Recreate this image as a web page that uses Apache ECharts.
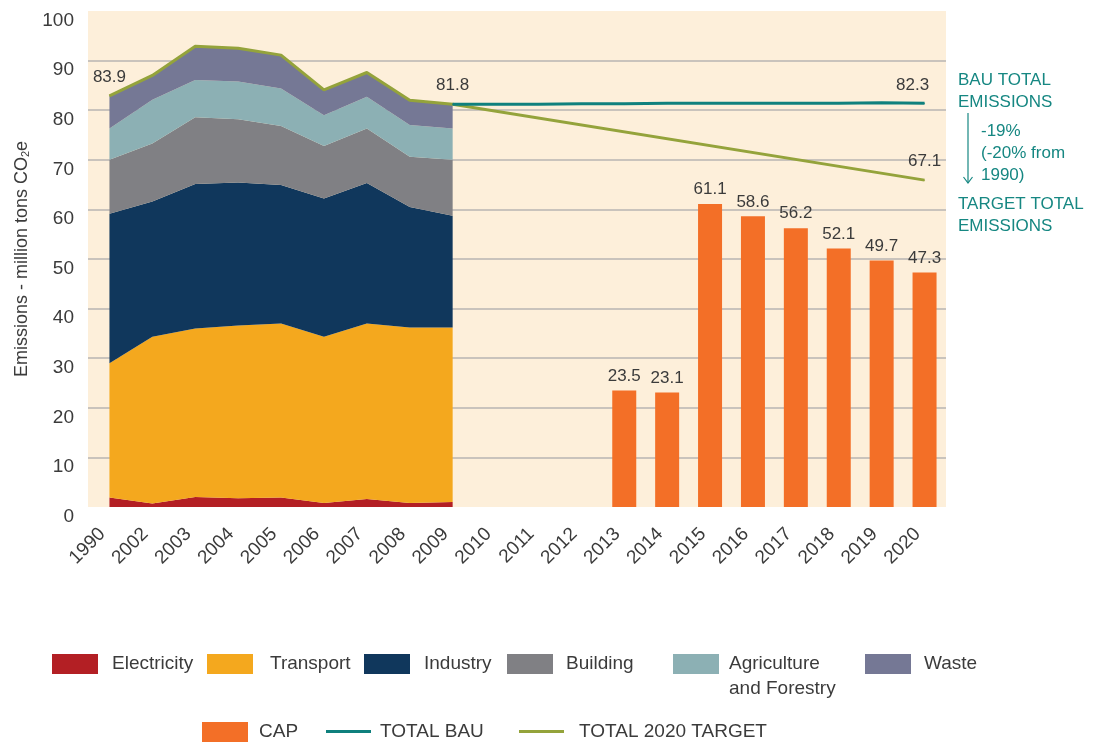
<!DOCTYPE html>
<html>
<head>
<meta charset="utf-8">
<title>Emissions</title>
<script src="https://cdn.jsdelivr.net/npm/echarts@6/dist/echarts.min.js"></script>
<style>
  html, body { margin: 0; padding: 0; background: #fff; }
  #main { width: 1095px; height: 742px; }
</style>
</head>
<body>
<div id="main"></div>
<script>
// categories
var years = ['1990', '2002', '2003', '2004', '2005', '2006', '2007', '2008', '2009', '2010',
             '2011', '2012', '2013', '2014', '2015', '2016', '2017', '2018', '2019', '2020'];

// sector emissions 1990-2009 (million tons CO2e)
var electricity = [1.9, 0.7, 2.0, 1.75, 1.9, 0.8, 1.6, 0.8, 1.0];
var transport   = [27.1, 33.6, 34.0, 34.85, 35.1, 33.5, 35.4, 35.4, 35.2];
var industry    = [30.1, 27.3, 29.1, 28.8, 27.9, 27.9, 28.3, 24.3, 22.5];
var building    = [10.9, 11.7, 13.5, 12.8, 11.9, 10.6, 11.0, 10.1, 11.3];
var agriculture = [6.3, 8.8, 7.5, 7.6, 7.6, 6.2, 6.4, 6.4, 6.3];
var waste       = [6.6, 4.9, 6.8, 6.7, 6.7, 5.1, 4.9, 5.0, 4.9];

// CAP 2013-2020
var cap = ['-', '-', '-', '-', '-', '-', '-', '-', '-', '-', '-', '-',
           23.5, 23.1, 61.1, 58.6, 56.2, 52.1, 49.7, 47.3];

// business as usual, 2009-2020
var bau = ['-', '-', '-', '-', '-', '-', '-', '-',
           81.2, 81.2, 81.2, 81.3, 81.3, 81.4, 81.4, 81.4, 81.4, 81.4, 81.5, 81.4];
var targetEnd = 65.9; // 2020 target as drawn

// printed labels
var targetLabels = ['83.9', '', '', '', '', '', '', '', '81.8', '', '', '', '', '', '', '', '', '', '', '67.1'];
var bauLabels = ['', '', '', '', '', '', '', '', '', '', '', '', '', '', '', '', '', '', '', '82.3'];

var yTicks = [0, 10, 20, 30, 40, 50, 60, 70, 80, 90, 100];

// target line: historic totals then straight to 2020
var target = years.map(function (y, i) {
    if (i < electricity.length) {
        return electricity[i] + transport[i] + industry[i] + building[i] + agriculture[i] + waste[i];
    }
    if (i === years.length - 1) return targetEnd;
    return '-';
});

var FONT = 'Liberation Sans, Arial, sans-serif';
var TEXT = '#3b3b3b';
var TEAL = '#168782';

function area(name, data, color) {
    return {
        name: name,
        type: 'line',
        stack: 'sector',
        data: data,
        showSymbol: false,
        symbol: 'none',
        lineStyle: { width: 0 },
        areaStyle: { color: color, opacity: 1 },
        itemStyle: { color: color },
        z: 2
    };
}

function legendItem(name, left, top, gap, extra) {
    var l = {
        data: [name],
        left: left,
        top: top,
        padding: 0,
        icon: 'rect',
        itemWidth: 46,
        itemHeight: 20,
        selectedMode: false,
        textStyle: { fontSize: 19, color: TEXT, fontFamily: FONT, padding: [0, 0, 0, gap] }
    };
    if (extra) Object.assign(l, extra);
    return l;
}

var chart = echarts.init(document.getElementById('main'));

var option = {
    animation: false,
    backgroundColor: '#ffffff',
    grid: {
        left: 88, right: 149, top: 11, bottom: 235,
        show: true, backgroundColor: '#fdefda', borderWidth: 0
    },
    legend: [
        legendItem('Electricity', 52, 654, 9),
        legendItem('Transport', 207, 654, 12),
        legendItem('Industry', 364, 654, 9),
        legendItem('Building', 507, 654, 8),
        legendItem('Agriculture and Forestry', 673, 654, 5, {
            formatter: function () { return 'Agriculture'; }
        }),
        legendItem('Waste', 865, 654, 8),
        legendItem('CAP', 202, 722, 6),
        legendItem('TOTAL BAU', 326, 722, 4, { itemWidth: 45, itemHeight: 3 }),
        legendItem('TOTAL 2020 TARGET', 519, 722, 10, { itemWidth: 45, itemHeight: 3 })
    ],
    xAxis: {
        type: 'category',
        data: years,
        boundaryGap: true,
        axisLine: { show: false },
        axisTick: { show: false },
        axisLabel: {
            interval: 0, rotate: 45, margin: 17, padding: [0, 10, 0, 0],
            fontSize: 19, color: TEXT, fontFamily: FONT
        }
    },
    yAxis: {
        type: 'value',
        min: 0, max: 100, interval: 10,
        name: 'Emissions - million tons {s|CO}{sub|2}{s|e}',
        nameLocation: 'middle',
        nameGap: 56,
        nameRotate: 90,
        nameTextStyle: {
            fontSize: 18, color: TEXT, fontFamily: FONT,
            rich: {
                s: { fontSize: 18, color: TEXT, fontFamily: FONT },
                sub: { fontSize: 11, color: TEXT, fontFamily: FONT, verticalAlign: 'bottom', padding: [8, 0, 0, 0] }
            }
        },
        axisLine: { show: false },
        axisTick: { show: false },
        axisLabel: {
            margin: 14, fontSize: 19, color: TEXT, fontFamily: FONT, verticalAlign: 'top'
        },
        splitLine: {
            lineStyle: {
                width: 1.5,
                color: yTicks.map(function (t) { return (t === 0 || t === 100) ? 'rgba(0,0,0,0)' : '#b7b5b2'; })
            }
        }
    },
    series: [
        area('Electricity', electricity, '#b31f24'),
        area('Transport', transport, '#f4a81e'),
        area('Industry', industry, '#10375c'),
        area('Building', building, '#808084'),
        area('Agriculture and Forestry', agriculture, '#8cb0b4'),
        area('Waste', waste, '#757895'),
        {
            name: 'CAP',
            type: 'bar',
            data: cap,
            barWidth: 24,
            itemStyle: { color: '#f36f27' },
            label: {
                show: true, position: 'top', distance: 6,
                fontSize: 17, color: TEXT, fontFamily: FONT
            },
            z: 3
        },
        {
            name: 'TOTAL BAU',
            type: 'line',
            data: bau,
            symbol: 'circle',
            symbolSize: 1,
            showAllSymbol: true,
            lineStyle: { width: 3, color: '#0f807d' },
            itemStyle: { color: '#0f807d' },
            label: {
                show: true, position: 'top', distance: 9, offset: [-12, 0],
                fontSize: 17, color: TEXT, fontFamily: FONT,
                formatter: function (p) { return bauLabels[p.dataIndex]; }
            },
            z: 5
        },
        {
            name: 'TOTAL 2020 TARGET',
            type: 'line',
            data: target,
            connectNulls: true,
            symbol: 'circle',
            symbolSize: 1,
            showAllSymbol: true,
            lineStyle: { width: 3, color: '#94a33b' },
            itemStyle: { color: '#94a33b' },
            label: {
                show: true, position: 'top', distance: 10,
                fontSize: 17, color: TEXT, fontFamily: FONT,
                formatter: function (p) { return targetLabels[p.dataIndex]; }
            },
            z: 4
        }
    ],
    graphic: [
        {
            type: 'text', left: 729, top: 679,
            style: { text: 'and Forestry', fill: TEXT, fontSize: 19, fontFamily: FONT }
        },
        {
            type: 'text', left: 958, top: 69,
            style: { text: 'BAU TOTAL\nEMISSIONS', fill: TEAL, fontSize: 17, lineHeight: 22, fontFamily: FONT }
        },
        {
            type: 'text', left: 981, top: 120,
            style: { text: '-19%\n(-20% from\n1990)', fill: TEAL, fontSize: 17, lineHeight: 22, fontFamily: FONT }
        },
        {
            type: 'text', left: 958, top: 193,
            style: { text: 'TARGET TOTAL\nEMISSIONS', fill: TEAL, fontSize: 17, lineHeight: 22, fontFamily: FONT }
        },
        {
            type: 'line',
            shape: { x1: 968, y1: 113, x2: 968, y2: 183 },
            style: { stroke: TEAL, lineWidth: 1.2 }
        },
        {
            type: 'polyline',
            shape: { points: [[963.5, 177], [968, 183], [972.5, 177]] },
            style: { stroke: TEAL, lineWidth: 1.2, fill: null }
        }
    ]
};

chart.setOption(option);
</script>
</body>
</html>
